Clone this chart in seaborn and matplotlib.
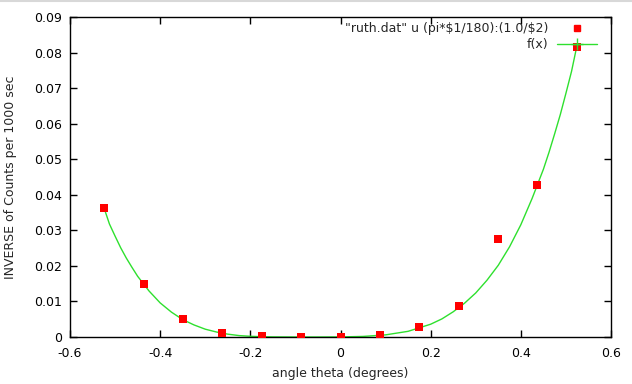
import matplotlib
matplotlib.use("Agg")
import matplotlib.pyplot as plt
from matplotlib.lines import Line2D
import seaborn as sns
import pandas as pd

# measured points (x in radians, y = inverse counts)
theta = [-0.524, -0.436, -0.349, -0.262, -0.175, -0.087, 0.0,
         0.087, 0.175, 0.262, 0.349, 0.436, 0.524]
inv_counts = [0.0362, 0.0150, 0.0050, 0.0010, 0.0002, 0.00005, 0.00005,
              0.0005, 0.0028, 0.0086, 0.0277, 0.0429, 0.0817]

fx_x = [-0.5236, -0.5125, -0.5, -0.4875, -0.475, -0.4625, -0.45, -0.425,
        -0.4, -0.375, -0.35, -0.325, -0.3, -0.275, -0.25, -0.225, -0.2,
        -0.175, -0.15, -0.1, -0.05, 0.0, 0.05, 0.1, 0.15, 0.2, 0.225,
        0.25, 0.275, 0.3, 0.325, 0.35, 0.375, 0.4, 0.425, 0.45, 0.4625,
        0.475, 0.4875, 0.5, 0.5125, 0.5236]
fx_y = [0.0360, 0.0318, 0.0284, 0.0251, 0.0222, 0.0196, 0.0171, 0.0130,
        0.0096, 0.0070, 0.0049, 0.0034, 0.0022, 0.0014, 0.0008, 0.0004,
        0.0002, 0.00008, 0.00003, 0.0, 0.0, 0.00002, 0.00016, 0.0006,
        0.0016, 0.0036, 0.0051, 0.0071, 0.0095, 0.0124, 0.0160, 0.0202,
        0.0254, 0.0316, 0.0390, 0.0472, 0.0520, 0.0572, 0.0626, 0.0686,
        0.0748, 0.0815]

x_ticks = [-0.6, -0.4, -0.2, 0.0, 0.2, 0.4, 0.6]
x_labels = ["-0.6", "-0.4", "-0.2", "0", "0.2", "0.4", "0.6"]
y_ticks = [0, 0.01, 0.02, 0.03, 0.04, 0.05, 0.06, 0.07, 0.08, 0.09]
y_labels = ["0", "0.01", "0.02", "0.03", "0.04", "0.05", "0.06", "0.07", "0.08", "0.09"]

legend_points = '"ruth.dat" u (pi*$1/180):(1.0/$2)'
legend_curve = "f(x)"

sns.set_style("ticks")
plt.rcParams["font.family"] = ["DejaVu Sans"]
plt.rcParams["text.parse_math"] = False

pts = pd.DataFrame({"x": theta, "y": inv_counts})
crv = pd.DataFrame({"x": fx_x, "y": fx_y})

FS = 9

fig = plt.figure(figsize=(6.32, 3.84), dpi=100)
ax = fig.add_axes([70 / 632, 1 - 337 / 384, (611 - 70) / 632, (337 - 17.3) / 384])

green = "#2ee02e"
red = "#ff0000"

sns.lineplot(data=crv, x="x", y="y", ax=ax, color=green, lw=1.0,
             sort=False, estimator=None, zorder=2)
sns.scatterplot(data=pts, x="x", y="y", ax=ax, marker="s", s=26, color=red,
                linewidth=0, zorder=3)

ax.set_xlim(-0.6, 0.6)
ax.set_ylim(0, 0.09)
ax.set_xticks(x_ticks)
ax.set_xticklabels(x_labels)
ax.set_yticks(y_ticks)
ax.set_yticklabels(y_labels)
ax.tick_params(axis="both", direction="in", length=5, width=1.0,
               top=True, right=True, labelsize=FS, colors="black")
ax.tick_params(axis="x", pad=7)
ax.tick_params(axis="y", pad=6)
for sp in ax.spines.values():
    sp.set_visible(True)
    sp.set_linewidth(1.0)
    sp.set_color("black")

ax.set_xlabel("angle theta (degrees)", fontsize=FS, labelpad=5)
ax.set_ylabel("INVERSE of Counts per 1000 sec", fontsize=FS, labelpad=12)

handles = [
    Line2D([], [], marker="s", linestyle="none", color=red, markersize=5),
    Line2D([], [], marker="+", linestyle="-", color=green, lw=1.0,
           markersize=9, markeredgewidth=1.0),
]
leg = fig.legend(handles, [legend_points, legend_curve], loc="upper right",
                 bbox_to_anchor=(597 / 632, 1 - 22 / 384), bbox_transform=fig.transFigure,
                 frameon=False, markerfirst=False, fontsize=FS, handlelength=3.2,
                 handletextpad=0.7, labelspacing=0.25, borderpad=0, borderaxespad=0)

fig.add_artist(Line2D([0, 1], [1 - 0.5 / 384, 1 - 0.5 / 384],
                      transform=fig.transFigure, color="#d8d8d8", lw=1.5))

fig.savefig("out.png", dpi=100)
